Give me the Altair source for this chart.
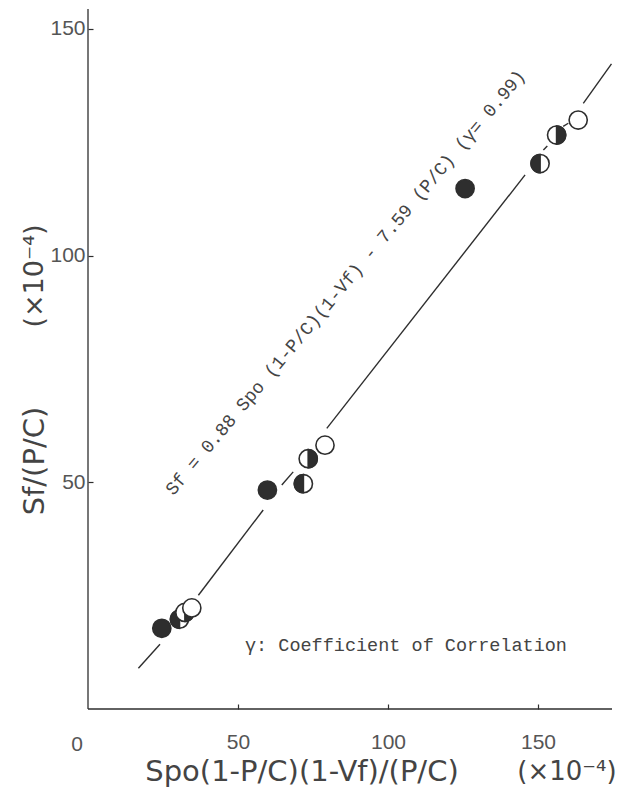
import math
import altair as alt
import pandas as pd

# ---------------- data ----------------
pt_x = [24.6, 30.5, 32.3, 34.6, 59.8, 71.8, 73.4, 79.0, 125.7, 150.7, 156.2, 163.4]
pt_y = [17.8, 19.8, 21.3, 22.3, 48.3, 49.7, 55.2, 58.2, 114.8, 120.3, 126.6, 129.9]
pt_kind = ["filled", "left", "right", "open",
           "filled", "left", "right", "open",
           "filled", "left", "right", "open"]

# fitted line, drawn in pieces (interrupted at the markers)
seg_x1 = [16.8, 36.8, 64.6, 79.6, 151.8, 158.4, 165.1]
seg_y1 = [9.0, 25.1, 49.4, 61.9, 123.3, 128.5, 133.6]
seg_x2 = [24.0, 58.4, 68.4, 145.7, 153.1, 160.1, 174.5]
seg_y2 = [14.3, 43.9, 52.3, 117.8, 124.2, 129.2, 142.3]

x_ticks = [50, 100, 150]
y_ticks = [50, 100, 150]

eq_text = ["Sf = 0.88 Spo (1-P/C)(1-Vf) - 7.59 (P/C)   (\u03b3= 0.99)"]
legend_text = ["\u03b3: Coefficient of Correlation"]
x_title = ["Spo(1-P/C)(1-Vf)/(P/C)"]
y_title = ["Sf/(P/C)"]
unit_text = ["(\u00d710\u207b\u2074)"]
origin_text = ["0"]

# ---------------- styling ----------------
W, H = 524, 700
ink = "#2e2e2e"
gray = "#555555"


def half_disc(side, n=24):
    pts = []
    for i in range(n + 1):
        a = math.pi / 2 + side * math.pi * i / n
        pts.append((math.cos(a), -math.sin(a)))
    s = "M0,-1 " + " ".join("L%.4f,%.4f" % p for p in pts) + " Z"
    return s


left_path = half_disc(1)    # through the left side
right_path = half_disc(-1)  # through the right side

rows = []
seq = 0
for xv, yv, k in zip(pt_x, pt_y, pt_kind):
    rows.append({"x": xv, "y": yv, "part": "disc",
                 "tone": "dark" if k == "filled" else "white", "seq": seq})
    seq += 1
    if k in ("left", "right"):
        rows.append({"x": xv, "y": yv, "part": k, "tone": "dark", "seq": seq})
        seq += 1
pts = pd.DataFrame(rows)

segs = pd.DataFrame({"x1": seg_x1, "y1": seg_y1, "x2": seg_x2, "y2": seg_y2})

xscale = alt.Scale(domain=[0, 174.67], nice=False, zero=False)
yscale = alt.Scale(domain=[0, 154.4], nice=False, zero=False)

xaxis = alt.Axis(values=x_ticks, offset=-5, domain=False, tickSize=5,
                 tickColor=ink, tickWidth=1.2, labelPadding=22,
                 labelFont="Liberation Sans", labelFontSize=21,
                 labelColor=gray, title=None, grid=False)
yaxis = alt.Axis(values=y_ticks, offset=-5, domain=False, tickSize=5,
                 tickColor=ink, tickWidth=1.2, labelPadding=3,
                 labelFont="Liberation Sans", labelFontSize=21,
                 labelColor=gray, title=None, grid=False)

line = alt.Chart(segs).mark_rule(color=ink, strokeWidth=1.4).encode(
    x=alt.X("x1:Q", scale=xscale, axis=xaxis),
    y=alt.Y("y1:Q", scale=yscale, axis=yaxis),
    x2="x2:Q",
    y2="y2:Q",
)

markers = alt.Chart(pts).mark_point(filled=True, size=330, stroke=ink,
                                    strokeWidth=1.6, opacity=1).encode(
    x=alt.X("x:Q", scale=xscale),
    y=alt.Y("y:Q", scale=yscale),
    shape=alt.Shape("part:N", scale=alt.Scale(
        domain=["disc", "left", "right"],
        range=["circle", left_path, right_path]), legend=None),
    fill=alt.Fill("tone:N", scale=alt.Scale(
        domain=["dark", "white"], range=[ink, "white"]), legend=None),
    order=alt.Order("seq:Q"),
)

dom_y = alt.Chart(pd.DataFrame({"a": [0]})).mark_rule(color=ink, strokeWidth=1.3).encode(
    x=alt.value(0), y=alt.value(0), y2=alt.value(H))
dom_x = alt.Chart(pd.DataFrame({"a": [0]})).mark_rule(color=ink, strokeWidth=1.3).encode(
    x=alt.value(0), x2=alt.value(W), y=alt.value(H))


def label(texts, px, py, font, size, color, angle=0, align="center", baseline="middle"):
    kw = dict(font=font, fontSize=size, color=color, align=align, baseline=baseline)
    if angle:
        kw["angle"] = angle
    return alt.Chart(pd.DataFrame({"t": texts})).mark_text(**kw).encode(
        text="t:N", x=alt.value(px), y=alt.value(py))


eq = label(eq_text, 258, 274, "Liberation Mono", 18.3, "#444444", angle=310)
leg = label(legend_text, 157, 636, "Liberation Mono", 18.5, "#444444", align="left")
xt = label(x_title, 214, 763, "DejaVu Sans", 29, "#444444")
xu = label(unit_text, 479, 763, "DejaVu Sans", 26, "#444444")
yt = label(y_title, -53, 452, "DejaVu Sans", 29, "#444444", angle=270)
yu = label(unit_text, -53, 267, "DejaVu Sans", 27, "#444444", angle=270)
org = label(origin_text, -11, 736, "Liberation Sans", 21, gray)

chart = alt.layer(line, markers, dom_y, dom_x, eq, leg, xt, xu, yt, yu, org).properties(
    width=W, height=H,
    padding={"left": 88, "top": 9, "right": 6, "bottom": 78},
    autosize=alt.AutoSizeParams(type="none"),
    background="white",
).configure_view(stroke=None)

chart.save("out.html", embed_options={"renderer": "svg", "actions": False})
